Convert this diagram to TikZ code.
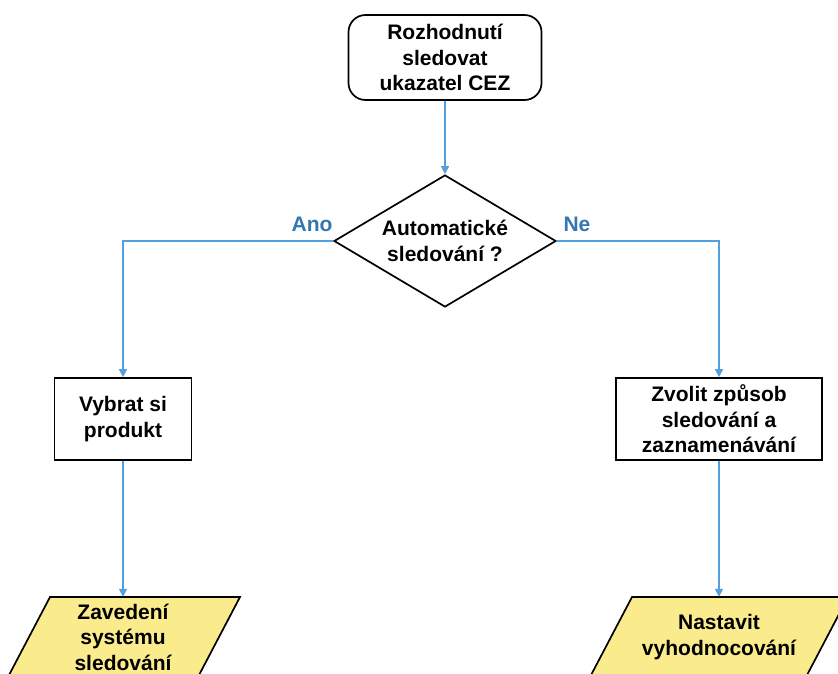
\documentclass[tikz,border=0pt]{standalone}
\usepackage{fontspec}
\setmainfont{Liberation Sans}
\usetikzlibrary{shapes.geometric,arrows.meta}
\definecolor{flowblue}{RGB}{84,160,222}
\definecolor{labelblue}{RGB}{52,118,178}
\definecolor{ioyellow}{RGB}{250,236,140}
\begin{document}
\begin{tikzpicture}[x=1pt,y=-1pt,
  every node/.style={font=\fontsize{21}{25.5}\selectfont\bfseries, align=center, text=black},
  startbox/.style={draw=black, line width=1.7pt, rounded corners=17pt, fill=white,
    minimum width=193pt, minimum height=85pt, inner sep=0pt},
  decision/.style={draw=black, diamond, line width=1.7pt, shape aspect=1.68,
    minimum width=222pt, minimum height=132pt, inner sep=0pt},
  procbox/.style={draw=black, line width=1.7pt, fill=white, minimum height=82pt, inner sep=0pt},
  iotext/.style={minimum height=80pt, inner sep=0pt},
  ioshape/.style={draw=black, line width=1.7pt, fill=ioyellow},
  flow/.style={draw=flowblue, line width=1.5pt, -{Triangle[length=8pt,width=8pt]}},
  answer/.style={text=labelblue}
]
\useasboundingbox (0,0) rectangle (838,673);
\fill[white] (0,0) rectangle (838,673);
\clip (0,0) rectangle (838,673);

% input/output parallelograms (drawn first, partly beyond the lower edge)
\path[ioshape] (50,597) -- (240,597) -- (198,677) -- (8,677) -- cycle;
\path[ioshape] (632,597) -- (848,597) -- (806,677) -- (590,677) -- cycle;

% nodes
\node[startbox] (start) at (445,57.5) {Rozhodnutí\\sledovat\\ukazatel CEZ};
\node[decision] (auto) at (445,241) {Automatické\\sledování ?};
\node[procbox, minimum width=137pt] (pick) at (123,419) {Vybrat si\\produkt};
\node[procbox, minimum width=206pt] (mode) at (719,419) {Zvolit způsob\\sledování a\\zaznamenávání};
\node[iotext] (setup) at (123,637) {Zavedení\\systému\\sledování};
\node[iotext] (evalio) at (719,637) {Nastavit\\vyhodnocování};

% connectors
\draw[flow] (start.south) -- (auto.north);
\draw[flow] (auto.west) -| (pick.north);
\draw[flow] (auto.east) -| (mode.north);
\draw[flow] (pick.south) -- (setup.north);
\draw[flow] (mode.south) -- (evalio.north);

% branch labels
\node[answer] (yes) at (312,224) {Ano};
\node[answer] (no) at (577,224) {Ne};
\end{tikzpicture}
\end{document}
